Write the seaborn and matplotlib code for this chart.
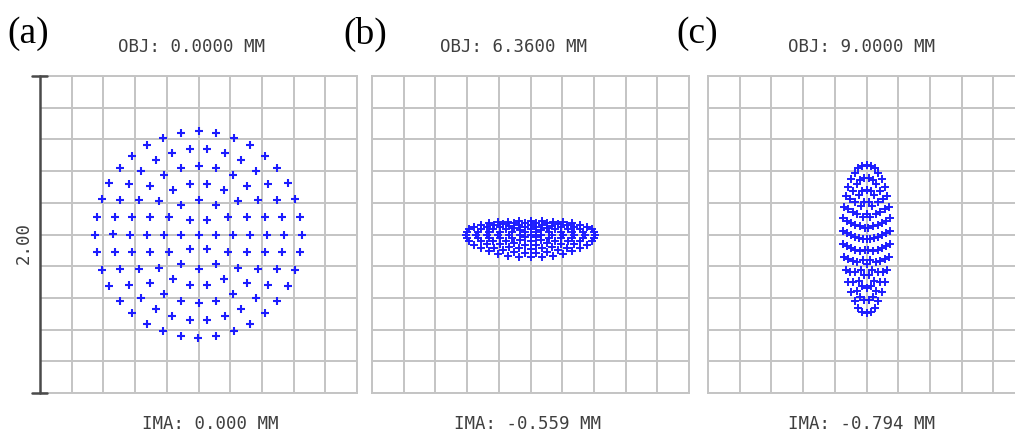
import numpy as np
import pandas as pd
import matplotlib
matplotlib.use("Agg")
import matplotlib.pyplot as plt
import seaborn as sns

# ---- chart content ----
panel_labels = ["(a)", "(b)", "(c)"]
obj_heights = ["0.0000", "6.3600", "9.0000"]
ima_heights = ["0.000", "-0.559", "-0.794"]
scale_text = "2.00"

# spot footprint per field, in box units (the box spans the 2.00 scale bar)
spot_half_width = [0.65, 0.41, 0.151]
spot_half_height = [0.65, 0.114, 0.467]
spot_center_y = [0.0, 0.0, -0.028]
spot_bend_x = [0.0, 0.0, 0.05]
spot_bend_y = [0.0, -0.03, 0.0]

# hexapolar pupil sampling
pupil_rings = 6

W, H = 1015, 437
BLUE = "#1c1cff"
GRID = "#c4c4c4"
TEXT = "#3f3f3f"
BAR = "#4a4a4a"


def hexapolar(n):
    px, py = [0.0], [0.0]
    for k in range(1, n + 1):
        r = k / n
        t = np.arange(6 * k) * 2 * np.pi / (6 * k)
        px.extend(r * np.cos(t))
        py.extend(r * np.sin(t))
    return np.array(px), np.array(py)


def fx(x):
    return x / W


def fy(y):
    return 1 - y / H


sns.set_theme(style="white")
plt.rcParams["font.family"] = ["DejaVu Sans"]

fig = plt.figure(figsize=(W / 100, H / 100), dpi=100)
fig.patch.set_facecolor("white")

box_left = [40, 372, 708]
box_top, box_size = 76, 317
obj_x = [192, 514, 862]
ima_x = [210, 527, 862]
label_x = [7, 343, 676]
marker_size = [38, 28, 28]
marker_lw = [1.5, 1.4, 1.4]

px, py = hexapolar(pupil_rings)
ticks = np.linspace(-1, 1, 11)

for i in range(3):
    ax = fig.add_axes([fx(box_left[i]), fy(box_top + box_size),
                       box_size / W, box_size / H])
    spots = pd.DataFrame({
        "x": spot_half_width[i] * px,
        "y": spot_center_y[i] + spot_half_height[i] * py
             + spot_bend_x[i] * px ** 2 + spot_bend_y[i] * py ** 2,
    })
    sns.scatterplot(data=spots, x="x", y="y", marker="+", color=BLUE,
                    s=marker_size[i], linewidth=marker_lw[i], ax=ax,
                    legend=False, zorder=3)
    ax.set_xlim(-1, 1)
    ax.set_ylim(-1, 1)
    ax.set_xticks(ticks)
    ax.set_yticks(ticks)
    ax.tick_params(length=0, labelbottom=False, labelleft=False)
    ax.set_xlabel("")
    ax.set_ylabel("")
    ax.grid(True, color=GRID, lw=1.4)
    ax.set_axisbelow(True)
    for sp in ax.spines.values():
        sp.set_color(GRID)
        sp.set_linewidth(1.4)

    if i == 0:
        # 2.00 scale bar along the left edge
        ax.spines["left"].set_visible(False)
        ax.plot([-1, -1], [-1, 1], color=BAR, lw=1.8, clip_on=False, zorder=5)
        for yy in (-1, 1):
            ax.plot([-1.05, -0.955], [yy, yy], color=BAR, lw=1.8,
                    clip_on=False, zorder=5)

    fig.text(fx(label_x[i]), fy(34), panel_labels[i], ha="left", va="center",
             fontsize=27, family="Liberation Serif", color="black")
    fig.text(fx(obj_x[i]), fy(47), f"OBJ: {obj_heights[i]} MM", ha="center",
             va="center", fontsize=12.5, family="DejaVu Sans Mono", color=TEXT)
    fig.text(fx(ima_x[i]), fy(424), f"IMA: {ima_heights[i]} MM", ha="center",
             va="center", fontsize=12.5, family="DejaVu Sans Mono", color=TEXT)

fig.text(fx(24), fy(243), scale_text, rotation=90, ha="center", va="center",
         fontsize=12.5, family="DejaVu Sans Mono", color=TEXT)

fig.savefig("out.png", dpi=100, facecolor="white")
